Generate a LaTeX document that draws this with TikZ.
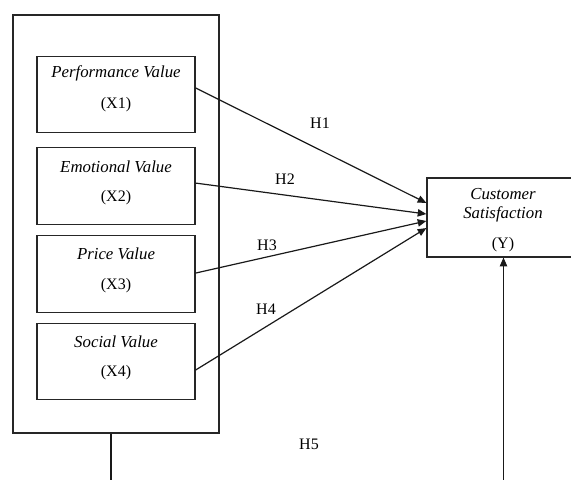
\documentclass[tikz,border=0pt]{standalone}
\usepackage{fontspec}
\setmainfont{Liberation Serif}
\usetikzlibrary{arrows.meta}
\begin{document}
\begin{tikzpicture}[x=0.75pt,y=-0.75pt,
  frame/.style={draw=black!85, line width=0.9pt, inner sep=0pt},
  varbox/.style={frame, minimum width=118.5pt, minimum height=57.5pt},
  lbl/.style={font=\fontsize{12}{14}\selectfont, inner sep=0pt},
  ital/.style={lbl, font=\fontsize{12.6}{14}\selectfont\itshape},
  link/.style={draw=black!90, line width=0.9pt, -{Triangle[length=6.5pt,width=5.5pt]}}]
\useasboundingbox (0,0) rectangle (571,479);
% outer frame
\node[frame, minimum width=154.5pt, minimum height=313.5pt] (outer) at (116,224) {};
% variable boxes
\node[varbox] (b1) at (116,94.5) {};
\node[varbox] (b2) at (116,186) {};
\node[varbox] (b3) at (116,274) {};
\node[varbox] (b4) at (116,361.5) {};
\node[ital] (t1) at (116,73) {Performance Value};
\node[lbl] (n1) at (116,105) {(X1)};
\node[ital] (t2) at (116,167) {Emotional Value};
\node[lbl] (n2) at (116,198) {(X2)};
\node[ital] (t3) at (116,254) {Price Value};
\node[lbl] (n3) at (116,286) {(X3)};
\node[ital] (t4) at (116,342) {Social Value};
\node[lbl] (n4) at (116,373) {(X4)};
% dependent box
\node[frame, minimum width=114.75pt, minimum height=59.25pt] (Y) at (503.5,217.5) {};
\node[ital] (ty1) at (503,194) {Customer};
\node[ital] (ty2) at (503,214) {Satisfaction};
\node[lbl] (ny) at (503,245) {(Y)};
% arrows
\draw[link] ([yshift=4.9pt]b1.east) -- ([yshift=10.9pt]Y.west);
\draw[link] ([yshift=2.2pt]b2.east) -- ([yshift=2.6pt]Y.west);
\draw[link] ([yshift=0.7pt]b3.east) -- ([yshift=-2.6pt]Y.west);
\draw[link] ([yshift=-6.4pt]b4.east) -- ([yshift=-7.9pt]Y.west);
\draw[link] ([xshift=-3.75pt]outer.south) -- ++(0,48) -| (Y.south);
% labels
\node[lbl] (h1) at (320,123) {H1};
\node[lbl] (h2) at (285,179) {H2};
\node[lbl] (h3) at (267,245) {H3};
\node[lbl] (h4) at (266,309) {H4};
\node[lbl] (h5) at (309,444) {H5};
\end{tikzpicture}
\end{document}
